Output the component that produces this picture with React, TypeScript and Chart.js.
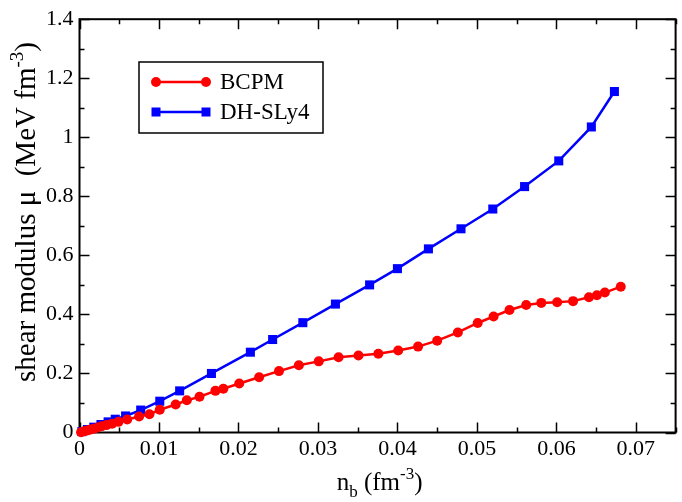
import React, { useEffect, useRef } from "react";
import { Chart, registerables } from "chart.js";

Chart.register(...registerables);

// ---- data ----
const bcpmN = [
  0.0002, 0.0006, 0.001, 0.0014, 0.0018, 0.0023, 0.0028, 0.0034, 0.0041, 0.0049,
  0.0060, 0.0075, 0.0088, 0.0101, 0.0121, 0.0135, 0.0151, 0.0171, 0.0181, 0.0201,
  0.0226, 0.0251, 0.0276, 0.0301, 0.0326, 0.0351, 0.0376, 0.0401, 0.0426, 0.0450,
  0.0476, 0.0501, 0.0521, 0.0541, 0.0562, 0.0581, 0.0601, 0.0621, 0.0641, 0.0651,
  0.0661, 0.0681,
];
const bcpmMu = [
  0.001, 0.004, 0.007, 0.010, 0.013, 0.017, 0.021, 0.025, 0.030, 0.036,
  0.044, 0.054, 0.062, 0.077, 0.095, 0.109, 0.121, 0.141, 0.148, 0.166,
  0.187, 0.208, 0.228, 0.241, 0.255, 0.261, 0.267, 0.278, 0.291, 0.311,
  0.339, 0.371, 0.393, 0.415, 0.432, 0.439, 0.441, 0.445, 0.458, 0.465,
  0.474, 0.494,
];
const slyN = [
  0.0003, 0.001, 0.0018, 0.0027, 0.0036, 0.0045, 0.0058, 0.0077, 0.0101, 0.0126,
  0.0166, 0.0215, 0.0243, 0.0281, 0.0322, 0.0365, 0.0400, 0.0439, 0.0480, 0.0520,
  0.0560, 0.0603, 0.0644, 0.0673,
];
const slyMu = [
  0.003, 0.010, 0.018, 0.027, 0.036, 0.045, 0.056, 0.076, 0.106, 0.141,
  0.200, 0.272, 0.315, 0.372, 0.435, 0.500, 0.555, 0.622, 0.690, 0.757,
  0.833, 0.920, 1.035, 1.155,
];
const seriesNames = ["BCPM", "DH-SLy4"];
const xMin = 0, xMax = 0.075, xStep = 0.01, xMinor = 0.005;
const yMin = 0, yMax = 1.4, yStep = 0.2, yMinor = 0.1;

const FONT = "'Liberation Serif', 'DejaVu Serif', serif";
const RED = "#ff0000";
const BLUE = "#0000ff";

type Seg = { t: string; s: number; dy: number };

function drawRich(ctx: CanvasRenderingContext2D, segs: Seg[], x: number, y: number) {
  let w = 0;
  for (const g of segs) {
    ctx.font = `${g.s}px ${FONT}`;
    w += ctx.measureText(g.t).width;
  }
  let cx = x - w / 2;
  ctx.textAlign = "left";
  ctx.textBaseline = "alphabetic";
  for (const g of segs) {
    ctx.font = `${g.s}px ${FONT}`;
    ctx.fillText(g.t, cx, y + g.dy);
    cx += ctx.measureText(g.t).width;
  }
}

const framePlugin = {
  id: "frame",
  beforeDatasetsDraw(chart: any) {
    const { ctx, chartArea: a, scales } = chart;
    const xs = scales.x, ys = scales.y;
    ctx.save();
    ctx.strokeStyle = "#000";
    ctx.lineWidth = 2;
    ctx.strokeRect(a.left, a.top, a.right - a.left, a.bottom - a.top);
    ctx.lineWidth = 1.5;
    ctx.beginPath();
    const nx = Math.round((xMax - xMin) / xMinor);
    for (let i = 0; i <= nx; i++) {
      const v = xMin + i * xMinor;
      const major = Math.abs(v / xStep - Math.round(v / xStep)) < 1e-6;
      const len = major ? 10 : 5;
      const px = Math.round(xs.getPixelForValue(v)) + 0.5;
      ctx.moveTo(px, a.bottom); ctx.lineTo(px, a.bottom - len);
      ctx.moveTo(px, a.top); ctx.lineTo(px, a.top + len);
    }
    const ny = Math.round((yMax - yMin) / yMinor);
    for (let i = 0; i <= ny; i++) {
      const v = yMin + i * yMinor;
      const major = Math.abs(v / yStep - Math.round(v / yStep)) < 1e-6;
      const len = major ? 10 : 5;
      const py = Math.round(ys.getPixelForValue(v)) + 0.5;
      ctx.moveTo(a.left, py); ctx.lineTo(a.left + len, py);
      ctx.moveTo(a.right, py); ctx.lineTo(a.right - len, py);
    }
    ctx.stroke();
    ctx.restore();
  },
  afterDraw(chart: any) {
    const { ctx, chartArea: a } = chart;
    ctx.save();
    ctx.fillStyle = "#000";
    // x title
    drawRich(ctx, [
      { t: "n", s: 25, dy: 0 },
      { t: "b", s: 17, dy: 7 },
      { t: " (fm", s: 25, dy: 0 },
      { t: "-3", s: 17, dy: -11 },
      { t: ")", s: 25, dy: 0 },
    ], (a.left + a.right) / 2 + 2, 490);
    // y title
    ctx.save();
    ctx.translate(35, 212);
    ctx.rotate(-Math.PI / 2);
    drawRich(ctx, [
      { t: "shear modulus \u03bc  (MeV fm", s: 29, dy: 0 },
      { t: "-3", s: 19, dy: -12 },
      { t: ")", s: 29, dy: 0 },
    ], 0, 0);
    ctx.restore();
    // legend
    const bx = 139, by = 62, bw = 184, bh = 71;
    ctx.strokeStyle = "#000";
    ctx.lineWidth = 1.5;
    ctx.strokeRect(bx, by, bw, bh);
    const rows = [
      { y: 82, color: RED, style: "circle" },
      { y: 112, color: BLUE, style: "rect" },
    ];
    rows.forEach((r, i) => {
      ctx.strokeStyle = r.color;
      ctx.fillStyle = r.color;
      ctx.lineWidth = 2.5;
      ctx.beginPath();
      ctx.moveTo(156, r.y); ctx.lineTo(206, r.y);
      ctx.stroke();
      for (const mx of [156, 206]) {
        ctx.beginPath();
        if (r.style === "circle") ctx.arc(mx, r.y, 5, 0, Math.PI * 2);
        else ctx.rect(mx - 4.5, r.y - 4.5, 9, 9);
        ctx.fill();
      }
      ctx.fillStyle = "#000";
      ctx.font = `23px ${FONT}`;
      ctx.textAlign = "left";
      ctx.textBaseline = "middle";
      ctx.fillText(seriesNames[i], 220, r.y + 1);
    });
    ctx.restore();
  },
};

export default function App() {
  const ref = useRef<HTMLCanvasElement | null>(null);
  useEffect(() => {
    if (!ref.current) return;
    const chart = new Chart(ref.current, {
      type: "scatter",
      data: {
        datasets: [
          {
            label: seriesNames[0],
            data: bcpmN.map((x, i) => ({ x, y: bcpmMu[i] })),
            showLine: true,
            borderColor: RED,
            backgroundColor: RED,
            borderWidth: 2.5,
            pointRadius: 5,
            pointHoverRadius: 5,
            pointBorderWidth: 0,
            pointStyle: "circle",
            clip: false,
          } as any,
          {
            label: seriesNames[1],
            data: slyN.map((x, i) => ({ x, y: slyMu[i] })),
            showLine: true,
            borderColor: BLUE,
            backgroundColor: BLUE,
            borderWidth: 2.5,
            pointRadius: 6.4,
            pointHoverRadius: 6.4,
            pointBorderWidth: 0,
            pointStyle: "rect",
            clip: false,
          } as any,
        ],
      },
      options: {
        responsive: false,
        animation: false,
        devicePixelRatio: 1,
        layout: { padding: { left: 0, right: 1, top: 12, bottom: 0 } },
        plugins: { legend: { display: false }, tooltip: { enabled: false } },
        scales: {
          x: {
            type: "linear",
            min: xMin,
            max: xMax,
            grid: { display: false, drawTicks: false },
            border: { display: false },
            afterFit: (s: any) => { s.height = 69.5; },
            ticks: {
              stepSize: xStep,
              includeBounds: false,
              color: "#000",
              padding: 4,
              maxRotation: 0,
              autoSkip: false,
              font: { family: FONT, size: 22 },
              callback: (v: any) => String(+Number(v).toFixed(3)),
            },
          },
          y: {
            type: "linear",
            min: yMin,
            max: yMax,
            grid: { display: false, drawTicks: false },
            border: { display: false },
            afterFit: (s: any) => { s.width = 79.5; },
            ticks: {
              stepSize: yStep,
              color: "#000",
              padding: 6,
              autoSkip: false,
              font: { family: FONT, size: 22 },
              callback: (v: any) => String(+Number(v).toFixed(2)),
            },
          },
        },
      },
      plugins: [framePlugin],
    });
    return () => chart.destroy();
  }, []);
  return (
    <div style={{ position: "fixed", left: 0, top: 0, width: 682, height: 502, background: "#fff" }}>
      <canvas ref={ref} width={682} height={502} style={{ width: 682, height: 502 }} />
    </div>
  );
}
